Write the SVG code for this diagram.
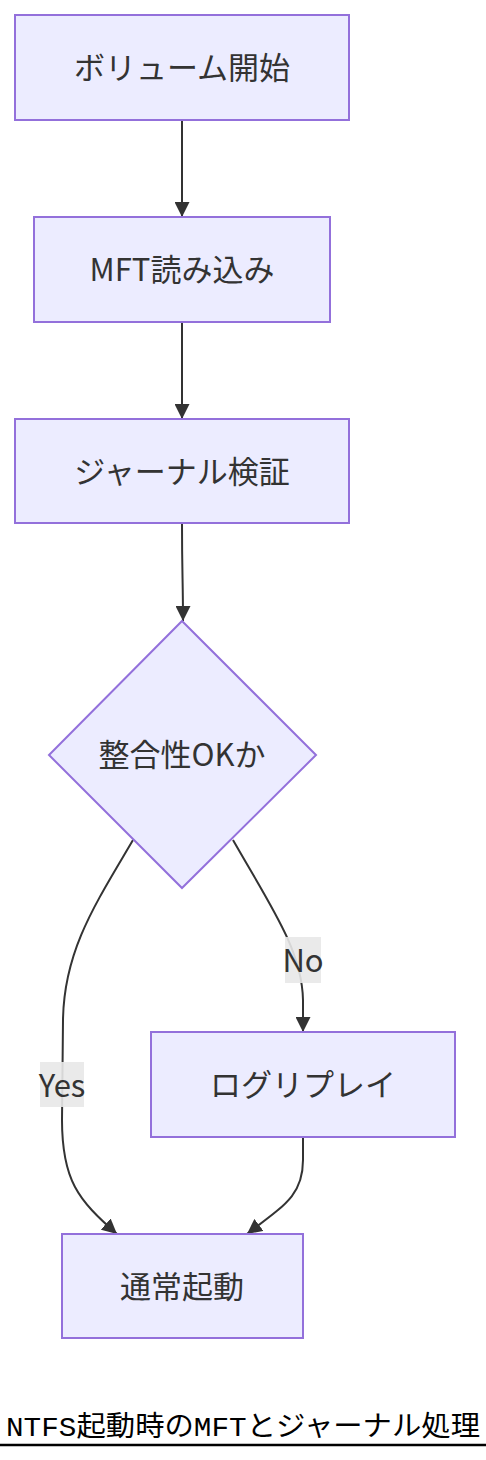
<svg xmlns="http://www.w3.org/2000/svg" width="486" height="1460" viewBox="0 0 486 1460">
<style>
.node rect,.node polygon{fill:#ECECFF;stroke:#9370DB;stroke-width:2}
.lbl{font-family:"Noto Sans CJK JP","Noto Sans",sans-serif;font-size:31px;fill:#333;text-anchor:middle;dominant-baseline:central}
.edge{fill:none;stroke:#333;stroke-width:2;marker-end:url(#arrow)}
.elbg{fill:#e8e8e8;opacity:0.9}
.title{font-family:"Liberation Mono","Noto Sans CJK JP",monospace;font-size:28px;fill:#000}
</style>
<defs>
<marker id="arrow" viewBox="0 0 10 10" refX="10" refY="5" markerUnits="userSpaceOnUse" markerWidth="15" markerHeight="15" orient="auto">
<path d="M0,0 L10,5 L0,10 z" fill="#333"/>
</marker>
</defs>
<rect width="486" height="1460" fill="#fff"/>
<g id="connectors">
<path class="edge" d="M182,120 L182,217"/>
<path class="edge" d="M182,322 L182,419"/>
<path class="edge" d="M182,523 C182,575 183,580 183,621"/>
<path class="edge" d="M133,840 C96,903 64,950 63,1020 L62,1120 C62,1180 78,1200 117,1234"/>
<path class="edge" d="M233,840 C270,905 302,950 303,1000 L303,1032"/>
<path class="edge" d="M303,1137 L303,1160 C303,1195 285,1205 247,1234"/>
<g id="label-no"><rect class="elbg" x="285" y="937" width="36" height="46"/><text class="lbl" x="303" y="958">No</text></g>
<g id="label-yes"><rect class="elbg" x="40" y="1062" width="44" height="45"/><text class="lbl" x="62" y="1083">Yes</text></g>
</g>
<g id="n1" class="node"><rect x="15" y="15" width="334" height="105"/><text class="lbl" x="182" y="65">ボリューム開始</text></g>
<g id="n2" class="node"><rect x="34" y="217" width="296" height="105"/><text class="lbl" x="182" y="267">MFT読み込み</text></g>
<g id="n3" class="node"><rect x="15" y="419" width="334" height="104"/><text class="lbl" x="182" y="469">ジャーナル検証</text></g>
<g id="n4" class="node"><polygon points="182,621 316,755 182,888 49,755"/><text class="lbl" x="182" y="752">整合性OKか</text></g>
<g id="n5" class="node"><rect x="151" y="1032" width="304" height="105"/><text class="lbl" x="303" y="1082">ログリプレイ</text></g>
<g id="n6" class="node"><rect x="62" y="1234" width="241" height="104"/><text class="lbl" x="182" y="1284">通常起動</text></g>
<g id="title">
<text class="title" x="6" y="1436" textLength="474" lengthAdjust="spacingAndGlyphs">NTFS起動時のMFTとジャーナル処理</text>
<line x1="0" y1="1445" x2="486" y2="1445" stroke="#000" stroke-width="2.5"/>
</g>
</svg>
